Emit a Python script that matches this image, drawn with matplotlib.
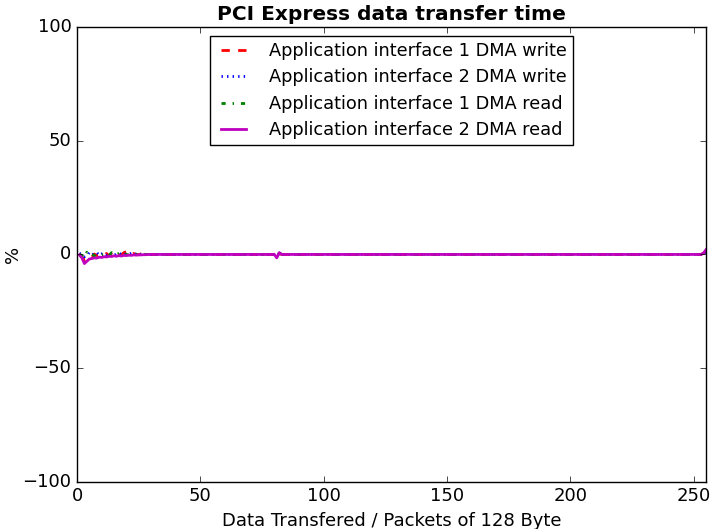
import matplotlib
matplotlib.use("Agg")
import matplotlib.pyplot as plt
import numpy as np

plt.style.use("classic")

# packets transferred (1 .. 255)
packets = list(range(1, 256))
n = len(packets)

# deviation in % for the first packets, the rest stays flat at 0
dma1_write_head = [0.0, -1.0, -2.5, -1.5, -0.5, -1.0, 0.2, -0.5, -0.3, 0.3,
                   -0.2, 0.4, -0.6, 0.2, -0.4, 0.6, 0.0, -0.3, 0.8, 1.2,
                   0.3, -0.2, 0.4, 0.0, -0.1, 0.2, -0.1, 0.1, 0.0, 0.0]
dma2_write_head = [0.5, 0.0, -1.0, -0.5, 0.8, -0.2, 0.3, 0.9, -0.4, 0.2,
                   0.6, -0.3, 0.8, 0.2, -0.5, 0.3, 0.7, 0.0, -0.2, 0.4,
                   0.1, 0.5, 0.9, -0.1, 0.3, 0.0, 0.2, -0.1, 0.1, 0.0]
dma1_read_head = [0.0, -0.5, -1.5, 1.0, -0.3, 0.2, -0.6, 0.1, 0.5, -0.2,
                  0.0, 0.4, -0.5, 0.8, 0.0, -0.3, 0.5, 1.0, 0.2, 0.0,
                  -0.2, 0.3, 0.0, 0.1, -0.1, 0.0, 0.1, 0.0, 0.0, 0.0]
dma2_read_head = [-0.2, -1.5, -4.0, -3.0, -2.0, -1.8, -1.5, -1.6, -1.2, -1.3,
                  -1.0, -1.1, -0.8, -0.9, -0.6, -0.8, -0.5, -0.7, -0.4, -0.5,
                  -0.3, -0.4, -0.2, -0.3, -0.2, -0.2, -0.1, -0.1, 0.0, 0.0]

# small glitches at packet 81 and at the last packets
glitch_idx = [79, 80, 81, 253, 254]
dma1_write_glitch = [0.0, -0.8, 0.5, 0.5, 1.0]
dma2_write_glitch = [0.0, -0.5, 0.3, 0.3, 0.8]
dma1_read_glitch = [0.0, -1.0, 0.6, 0.5, 1.5]
dma2_read_glitch = [0.0, -1.5, 0.8, 0.5, 2.0]


def build(head, glitch):
    vals = np.zeros(n)
    vals[:len(head)] = head
    vals[glitch_idx] = glitch
    return vals


dma1_write = build(dma1_write_head, dma1_write_glitch)
dma2_write = build(dma2_write_head, dma2_write_glitch)
dma1_read = build(dma1_read_head, dma1_read_glitch)
dma2_read = build(dma2_read_head, dma2_read_glitch)

plt.rcParams["font.size"] = 13
plt.rcParams["lines.scale_dashes"] = False

fig = plt.figure(figsize=(7.13, 5.29), dpi=100)
ax = fig.add_axes([0.108, 0.089, 0.882, 0.86])

ax.plot(packets, dma1_write, "r--", linewidth=2, label="Application interface 1 DMA write")
ax.plot(packets, dma2_write, "b:", linewidth=2, label="Application interface 2 DMA write")
ax.plot(packets, dma1_read, "g-.", linewidth=2, label="Application interface 1 DMA read")
ax.plot(packets, dma2_read, "m-", linewidth=2, label="Application interface 2 DMA read")

ax.set_xlim(0, 255)
ax.set_ylim(-100, 100)
ax.set_xticks([0, 50, 100, 150, 200, 250])
ax.set_yticks([-100, -50, 0, 50, 100])
ax.tick_params(labelsize=13)

ax.set_title("PCI Express data transfer time", fontsize=14.5, fontweight="bold")
ax.set_xlabel("Data Transfered / Packets of 128 Byte", fontsize=13)
ax.set_ylabel("%", fontsize=13)
ax.yaxis.set_label_coords(-0.088, 0.5)

ax.legend(loc="upper center", fontsize=12.8, handlelength=2.0,
          handletextpad=1.0, borderpad=0.35, borderaxespad=0.5,
          labelspacing=0.47)

fig.savefig("out.png", dpi=100)
